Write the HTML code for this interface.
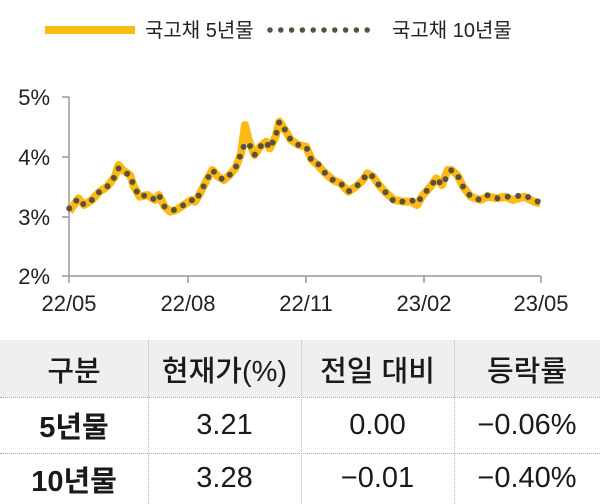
<!DOCTYPE html>
<html><head><meta charset="utf-8"><style>
body{margin:0;width:600px;height:504px;background:#fff;overflow:hidden;font-family:"Liberation Sans","Noto Sans CJK KR",sans-serif;}
</style></head><body>
<svg width="600" height="504" style="position:absolute;left:0;top:0">
<g font-family="Liberation Sans, Noto Sans CJK KR, sans-serif" fill="#222">
<line x1="45" y1="30" x2="135" y2="30" stroke="#FDBA12" stroke-width="8"/>
<text x="145" y="37" font-size="20">국고채 5년물</text>
<line x1="270" y1="30" x2="378" y2="30" stroke="#5a5040" stroke-width="5.5" stroke-linecap="round" stroke-dasharray="0 10.8"/>
<text x="392" y="37" font-size="20">국고채 10년물</text>
<g font-size="22" text-anchor="end">
<text x="50" y="105">5%</text><text x="50" y="165">4%</text><text x="50" y="225">3%</text><text x="50" y="284">2%</text>
</g>
<g font-size="22" text-anchor="middle">
<text x="69" y="311">22/05</text><text x="188" y="311">22/08</text><text x="306" y="311">22/11</text><text x="424" y="311">23/02</text><text x="541" y="311">23/05</text>
</g>
</g>
<g stroke="#999" stroke-width="1.5">
<line x1="69" y1="97" x2="69" y2="276"/><line x1="69" y1="276" x2="541" y2="276"/>
<line x1="62" y1="97" x2="69" y2="97"/><line x1="62" y1="157" x2="69" y2="157"/><line x1="62" y1="217" x2="69" y2="217"/><line x1="62" y1="276" x2="69" y2="276"/>
<line x1="69" y1="276" x2="69" y2="283"/><line x1="188" y1="276" x2="188" y2="283"/><line x1="306" y1="276" x2="306" y2="283"/><line x1="424" y1="276" x2="424" y2="283"/><line x1="541" y1="276" x2="541" y2="283"/>
</g>
<g transform="translate(0,80) scale(0.3827,0.3333)" fill="none">
<polyline vector-effect="non-scaling-stroke" stroke="#FDBA12" stroke-width="8" stroke-linejoin="round" points="181,395 205,355 220,375 240,360 260,335 280,320 300,290 310,255 320,270 340,285 350,320 365,350 385,345 405,360 415,345 430,380 445,395 460,390 480,375 500,360 510,365 525,335 540,300 555,270 570,290 585,300 600,285 615,265 630,220 640,135 650,180 665,225 680,200 695,185 705,205 720,170 730,125 745,150 760,180 780,195 800,200 815,240 830,255 850,280 870,300 890,310 910,335 930,320 945,305 960,280 975,290 990,315 1010,340 1030,360 1055,365 1075,365 1090,375 1105,345 1125,320 1140,295 1155,315 1170,270 1180,270 1195,285 1210,320 1230,350 1255,360 1275,350 1300,355 1320,350 1340,360 1370,350 1395,365 1412,370"/>
<polyline vector-effect="non-scaling-stroke" stroke="#5a5040" stroke-width="6" stroke-linecap="round" stroke-dasharray="0 10.5" points="181,385 205,355 220,375 240,360 260,335 280,320 300,290 310,265 320,275 340,285 350,320 365,350 385,345 405,360 415,345 430,380 445,390 460,390 480,375 500,360 510,365 525,335 540,300 555,270 570,290 585,300 600,285 615,265 630,220 640,190 650,190 665,225 680,200 695,185 705,205 720,170 730,125 745,150 760,180 780,195 800,200 815,245 830,250 850,280 870,300 890,310 910,335 930,320 945,305 960,280 975,290 990,315 1010,340 1030,365 1055,365 1075,360 1090,370 1105,345 1125,320 1140,295 1155,315 1170,285 1180,270 1195,285 1210,320 1230,350 1255,360 1275,345 1300,355 1320,350 1340,350 1370,345 1395,360 1412,368"/>
</g>
</svg>
<div style="position:absolute;left:0;top:340px;width:600px;height:57px;background:#efefef"></div>
<div style="position:absolute;left:0;top:397px;width:600px;border-top:1px dotted #aaa"></div>
<div style="position:absolute;left:0;top:453px;width:600px;border-top:1px dotted #aaa"></div>
<div style="position:absolute;left:148px;top:340px;height:164px;border-left:1px dotted #bbb"></div>
<div style="position:absolute;left:301px;top:340px;height:164px;border-left:1px dotted #bbb"></div>
<div style="position:absolute;left:454px;top:340px;height:164px;border-left:1px dotted #bbb"></div>
<div style="position:absolute;left:0;top:340px;width:600px;font-size:29px;color:#1a1a1a;">
<div style="display:flex;height:57px;align-items:center;text-align:center;font-weight:500"><div style="width:148px">구분</div><div style="width:153px">현재가(%)</div><div style="width:153px">전일 대비</div><div style="width:146px">등락률</div></div>
<div style="display:flex;height:56px;align-items:center;text-align:center"><div style="width:148px;font-weight:bold">5년물</div><div style="width:153px">3.21</div><div style="width:153px">0.00</div><div style="width:146px">−0.06%</div></div>
<div style="display:flex;height:51px;align-items:center;text-align:center"><div style="width:148px;font-weight:bold">10년물</div><div style="width:153px">3.28</div><div style="width:153px">−0.01</div><div style="width:146px">−0.40%</div></div>
</div>
</body></html>
